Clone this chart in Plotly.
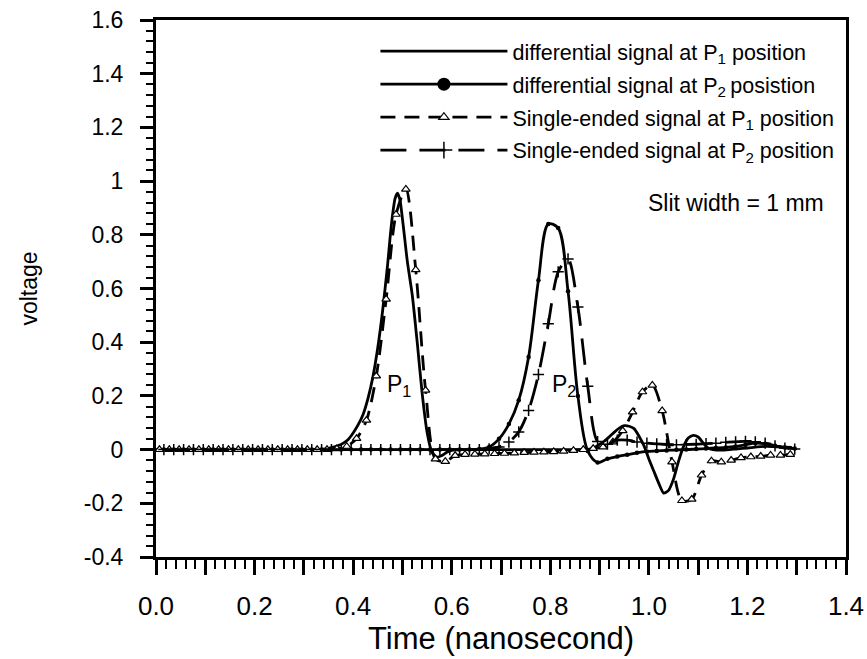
import plotly.graph_objects as go

FONT = "Liberation Sans, Arial, sans-serif"

# ---------------- data ----------------
# differential signal at P1 (solid line, no markers)
diff_p1_t = [0.0, 0.1, 0.2, 0.3, 0.33, 0.34, 0.35, 0.36, 0.37, 0.38, 0.39, 0.40,
             0.41, 0.42, 0.43, 0.44, 0.45, 0.46, 0.47, 0.475, 0.48, 0.485, 0.49,
             0.495, 0.50, 0.505, 0.51, 0.52, 0.53, 0.54, 0.55, 0.56, 0.57, 0.58,
             0.59, 0.60, 0.62, 0.65, 0.70, 0.75, 0.80, 0.85, 0.87, 0.88, 0.89,
             0.90, 0.91, 0.92, 0.93, 0.94, 0.95, 0.96, 0.97, 0.98, 0.99, 1.00,
             1.01, 1.02, 1.03, 1.04, 1.05, 1.06, 1.07, 1.08, 1.09, 1.10, 1.11,
             1.12, 1.13, 1.15, 1.18, 1.20, 1.22, 1.24, 1.26, 1.29]
diff_p1_v = [0.0, 0.0, 0.0, 0.0, 0.0, 0.002, 0.005, 0.009, 0.015, 0.024, 0.038, 0.062,
             0.092, 0.13, 0.19, 0.27, 0.38, 0.52, 0.69, 0.79, 0.875, 0.935, 0.955,
             0.93, 0.86, 0.78, 0.70, 0.575, 0.40, 0.21, 0.065, -0.01, -0.028, -0.022,
             -0.01, -0.003, 0.0, 0.0, 0.0, 0.0, 0.0, 0.0, 0.0, 0.002, 0.008,
             0.02, 0.032, 0.048, 0.065, 0.08, 0.089, 0.087, 0.078, 0.05, 0.015, -0.035,
             -0.08, -0.125, -0.162, -0.152, -0.11, -0.045, 0.01, 0.043, 0.053, 0.047, 0.025,
             0.006, 0.0, -0.002, 0.003, 0.006, 0.01, 0.012, 0.01, 0.008]

# sample times of the marker-bearing series
se_p1_t = [round(0.007 + 0.02 * k, 3) for k in range(65)]
p2_t = [round(0.016 + 0.02 * k, 3) for k in range(65)]

# differential signal at P2 (solid line with dots)
diff_p2_v = [0.0] * 32 + [
    0.002, 0.01, 0.04, 0.095, 0.184, 0.345, 0.631, 0.84, 0.825, 0.59, 0.20,
    -0.005, -0.048, -0.034, -0.026, -0.019, -0.012, -0.007, -0.005, -0.003,
    -0.001, 0.0, 0.002, 0.004, 0.006, 0.008, 0.012, 0.018, 0.024, 0.022,
    0.014, 0.008, 0.004]

# single-ended signal at P1 (dashed, open triangles)
se_p1_v = [0.0] * 18 + [
    0.003, 0.012, 0.041, 0.109, 0.274, 0.56, 0.876, 0.97, 0.67, 0.221,
    -0.035, -0.044, -0.022, -0.018, -0.017, -0.016, -0.015, -0.014, -0.013,
    -0.011, -0.010, -0.009, -0.008, -0.006, -0.003, 0.0, 0.004, 0.010, 0.028,
    0.07, 0.14, 0.215, 0.24, 0.145, -0.046, -0.19, -0.185, -0.095, -0.042,
    -0.046, -0.040, -0.030, -0.027, -0.025, -0.021, -0.021, -0.018]

# single-ended signal at P2 (long dash, crosses)
se_p2_v = [0.0] * 33 + [
    0.003, 0.01, 0.028, 0.066, 0.146, 0.28, 0.469, 0.662, 0.71, 0.531, 0.236,
    0.03, 0.02, 0.035, 0.035, 0.028, 0.024, 0.021, 0.019, 0.018, 0.019, 0.02,
    0.022, 0.024, 0.027, 0.029, 0.031, 0.029, 0.024, 0.014, 0.006, 0.002]

legend_names = [
    "differential signal at P<sub>1</sub> position",
    "differential signal at P<sub>2</sub>\u2009posistion",
    "Single-ended signal at P<sub>1</sub> position",
    "Single-ended signal at P<sub>2</sub> position",
]

y_tickvals = [-0.4, -0.2, 0.0, 0.2, 0.4, 0.6, 0.8, 1.0, 1.2, 1.4, 1.6]
y_ticktext = ["-0.4", "-0.2", "0", "0.2", "0.4", "0.6", "0.8", "1", "1.2", "1.4", "1.6"]

# ---------------- styles ----------------
LW = 2.8
styles = [
    dict(mode="lines", line=dict(color="black", width=LW, shape="spline", smoothing=0.6),
         marker=dict()),
    dict(mode="lines+markers", line=dict(color="black", width=LW, shape="spline", smoothing=0.9),
         marker=dict(symbol="circle", size=4.5, color="black")),
    dict(mode="lines+markers", line=dict(color="black", width=LW, dash="15px,9px", shape="spline", smoothing=0.8),
         marker=dict(symbol="triangle-up", size=7.5, color="white", line=dict(color="black", width=1.2))),
    dict(mode="lines+markers", line=dict(color="black", width=LW, dash="26px,13px", shape="spline", smoothing=0.8),
         marker=dict(symbol="cross-thin", size=8, color="black", line=dict(color="black", width=1.5))),
]
legend_marker_sizes = [0, 13, 9, 12]

series = [(diff_p1_t, diff_p1_v), (p2_t, diff_p2_v), (se_p1_t, se_p1_v), (p2_t, se_p2_v)]

fig = go.Figure()
for (tx, vy), st in zip(series, styles):
    fig.add_trace(go.Scatter(x=tx, y=vy, mode=st["mode"], line=st["line"], marker=st["marker"],
                             showlegend=False, hoverinfo="skip"))

# legend entries
for i, (name, st) in enumerate(zip(legend_names, styles)):
    mk = dict(st["marker"])
    if legend_marker_sizes[i]:
        mk["size"] = legend_marker_sizes[i]
    ln = dict(st["line"])
    ln.pop("shape", None)
    ln.pop("smoothing", None)
    fig.add_trace(go.Scatter(x=[None], y=[None], mode=st["mode"], line=ln, marker=mk,
                             name=name, legendgroup=f"g{i}", showlegend=True))

fig.add_annotation(x=1.176, y=0.92, text="Slit width = 1 mm", showarrow=False,
                   font=dict(family=FONT, size=23, color="black"))
fig.add_annotation(x=0.493, y=0.24, text="P<sub>1</sub>", showarrow=False,
                   font=dict(family=FONT, size=23, color="black"))
fig.add_annotation(x=0.828, y=0.24, text="P<sub>2</sub>", showarrow=False,
                   font=dict(family=FONT, size=23, color="black"))

fig.update_layout(
    width=867, height=659,
    margin=dict(l=156, r=21, t=20, b=102, autoexpand=False),
    paper_bgcolor="white", plot_bgcolor="white",
    font=dict(family=FONT, color="black"),
    showlegend=True,
    legend=dict(x=0.318, xanchor="left", y=0.98, yanchor="top",
                bgcolor="rgba(0,0,0,0)", borderwidth=0,
                font=dict(family=FONT, size=21.5, color="black"),
                traceorder="grouped", tracegroupgap=2, itemwidth=127),
)
fig.update_xaxes(
    range=[0, 1.4], showgrid=False, zeroline=False,
    showline=True, linecolor="black", linewidth=3, mirror=True,
    ticks="outside", ticklen=15, tickwidth=2.5, tickcolor="black",
    tickmode="linear", tick0=0, dtick=0.1, ticklabelstep=2, tickformat=".1f",
    tickfont=dict(family=FONT, size=26, color="black"), ticklabelstandoff=9,
    minor=dict(ticks="outside", dtick=0.02, tick0=0, ticklen=9, tickwidth=2, tickcolor="black"),
    title=dict(text="Time (nanosecond)", font=dict(family=FONT, size=31, color="black"), standoff=4),
)
fig.update_yaxes(
    range=[-0.4, 1.6], showgrid=False, zeroline=False,
    showline=True, linecolor="black", linewidth=3, mirror=True,
    ticks="outside", ticklen=13, tickwidth=2.5, tickcolor="black",
    tickmode="array", tickvals=y_tickvals, ticktext=y_ticktext,
    tickfont=dict(family=FONT, size=23, color="black"), ticklabelstandoff=12,
    minor=dict(ticks="outside", dtick=0.04, tick0=0, ticklen=7, tickwidth=2, tickcolor="black"),
    title=dict(text="voltage", font=dict(family=FONT, size=23, color="black"), standoff=40),
)

fig.write_html("out.html")
